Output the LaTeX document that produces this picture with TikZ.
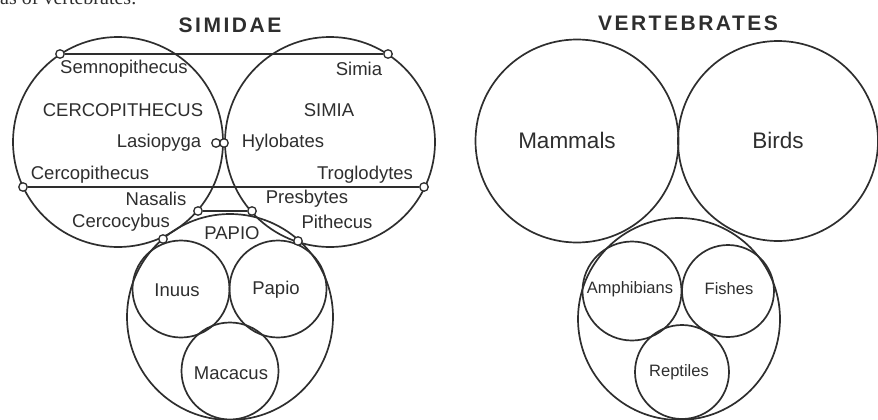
\documentclass[tikz,border=0pt]{standalone}
\usepackage{fontspec}
\setmainfont{Liberation Sans}
\newfontfamily\capfont{Liberation Serif}
\newfontfamily\headfont[LetterSpace=12]{Liberation Sans}
\definecolor{ink}{HTML}{2E2E2E}
\tikzset{
  ring/.style={draw=ink, line width=1.7pt, circle, inner sep=0pt},
  joint/.style={draw=ink, line width=1.3pt, fill=white, circle, inner sep=0pt, minimum size=8.5pt},
  chord/.style={draw=ink, line width=1.7pt},
  lab/.style={text=ink, inner sep=0pt, font=\fontsize{18.5}{20}\selectfont},
  biglab/.style={text=ink, inner sep=0pt, font=\fontsize{22.5}{24}\selectfont},
  smalllab/.style={text=ink, inner sep=0pt, font=\fontsize{16.5}{18}\selectfont},
  title/.style={text=ink, inner sep=0pt, font=\headfont\bfseries\fontsize{21}{23}\selectfont}
}
\begin{document}
\begin{tikzpicture}[x=1pt,y=-1pt]
  \useasboundingbox (0,0) rectangle (878,420);
  \clip (0,0) rectangle (878,420);
  \node[text=ink, inner sep=0pt, anchor=base west, font=\capfont\fontsize{20}{22}\selectfont] (caption) at (0,5) {as of vertebrates.};
  % SIMIDAE
  \node[title] (simidae) at (230,25) {SIMIDAE};
  \node[ring, minimum size=210] (cerco) at (118,142) {};
  \node[ring, minimum size=210] (simia) at (330,142) {};
  \node[ring, minimum size=206] (papio) at (230,317) {};
  \node[ring, minimum size=97] (inuus) at (181,289) {};
  \node[ring, minimum size=97] (papiosub) at (278,289) {};
  \node[ring, minimum size=97] (macacus) at (230,371) {};
  \node[joint] (semnoj) at (60,54) {};
  \node[joint] (simiaj) at (388,54) {};
  \node[joint] (cercoj) at (23,187) {};
  \node[joint] (troglj) at (424,187) {};
  \node[joint] (lasioj) at (216,143) {};
  \node[joint] (hyloj) at (224,143) {};
  \node[joint] (nasalj) at (198,211) {};
  \node[joint] (presbj) at (252,211) {};
  \node[joint] (cercocj) at (163,239) {};
  \node[joint] (pithecj) at (298,241) {};
  \draw[chord] (semnoj) -- (simiaj);
  \draw[chord] (cercoj) -- (troglj);
  \draw[chord] (nasalj) -- (presbj);
  \node[lab] (semnol) at (124,69) {Semnopithecus};
  \node[lab] (simial) at (359,69) {Simia};
  \node[lab] (cercogen) at (123,110) {CERCOPITHECUS};
  \node[lab] (simiagen) at (329,110) {SIMIA};
  \node[lab] (lasiol) at (159,143) {Lasiopyga};
  \node[lab] (hylol) at (283,143) {Hylobates};
  \node[lab] (cercol) at (90,175) {Cercopithecus};
  \node[lab] (trogll) at (365,175) {Troglodytes};
  \node[lab] (nasall) at (156,199) {Nasalis};
  \node[lab] (presbl) at (307,199) {Presbytes};
  \node[lab] (cercocl) at (121,223) {Cercocybus};
  \node[lab] (pithecl) at (337,222) {Pithecus};
  \node[lab] (papiogen) at (232,233) {PAPIO};
  \node[lab] (inuusl) at (177,290) {Inuus};
  \node[lab] (papiol) at (276,290) {Papio};
  \node[lab] (macacusl) at (231,373) {Macacus};
  % VERTEBRATES
  \node[title] (vertebrates) at (688,23) {VERTEBRATES};
  \node[ring, minimum size=203] (mammals) at (577,141) {};
  \node[ring, minimum size=200] (birds) at (778,141) {};
  \node[ring, minimum size=202] (lower) at (679,319) {};
  \node[ring, minimum size=99] (amphib) at (632,291) {};
  \node[ring, minimum size=92] (fishes) at (728,291) {};
  \node[ring, minimum size=94] (reptiles) at (682,372) {};
  \node[biglab] (mammalsl) at (567,140) {Mammals};
  \node[biglab] (birdsl) at (778,140) {Birds};
  \node[smalllab] (amphibl) at (630,289) {Amphibians};
  \node[smalllab] (fishesl) at (729,289) {Fishes};
  \node[smalllab] (reptilesl) at (679,372) {Reptiles};
\end{tikzpicture}
\end{document}
